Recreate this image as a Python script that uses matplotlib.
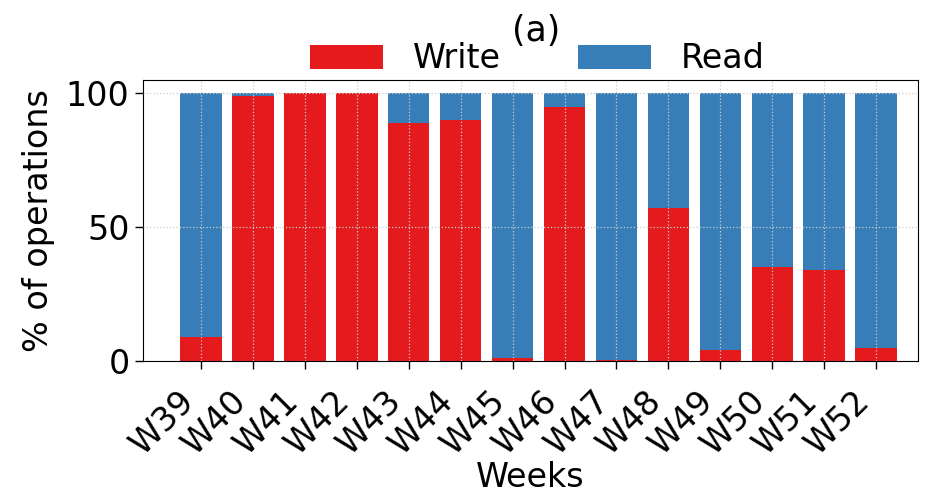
import numpy as np
import matplotlib.pyplot as plt

weeks = ['W39', 'W40', 'W41', 'W42', 'W43', 'W44', 'W45',
         'W46', 'W47', 'W48', 'W49', 'W50', 'W51', 'W52']
# доля операций записи, %
write_pct = [9, 99, 100, 100, 89, 90, 1, 95, 0.3, 57, 4, 35, 34, 5]
read_pct = [100 - w for w in write_pct]

plt.rcParams['font.size'] = 24

fig = plt.figure(figsize=(9.27, 5), dpi=100)
ax = fig.add_axes([0.154, 0.278, 0.836, 0.562])

x = np.arange(len(weeks))
ax.bar(x, write_pct, width=0.8, color='#e41a1c', label='Write')
ax.bar(x, read_pct, width=0.8, bottom=write_pct, color='#377eb8', label='Read')

ax.set_xlim(-1.12, 13.8)
ax.set_ylim(0, 105)
ax.set_yticks([0, 50, 100])
ax.set_xticks(x)
ax.set_xticklabels(weeks, rotation=45, ha='right')
ax.tick_params(axis='both', length=6, width=1)
ax.tick_params(axis='x', pad=11)

ax.grid(True, linestyle=':', color='#cccccc', linewidth=0.9)
ax.set_axisbelow(False)

ax.set_xlabel('Weeks', labelpad=0)
ax.set_ylabel('% of operations', labelpad=8)
ax.text(0.508, 1.175, '(a)', transform=ax.transAxes, ha='center', va='center',
        fontsize=25)
ax.legend(loc='center', bbox_to_anchor=(0.509, 1.075), ncol=2,
          frameon=False, handlelength=2.2, handleheight=0.75,
          handletextpad=0.9, columnspacing=2.3, borderaxespad=0)

fig.savefig('out.png', dpi=100)
